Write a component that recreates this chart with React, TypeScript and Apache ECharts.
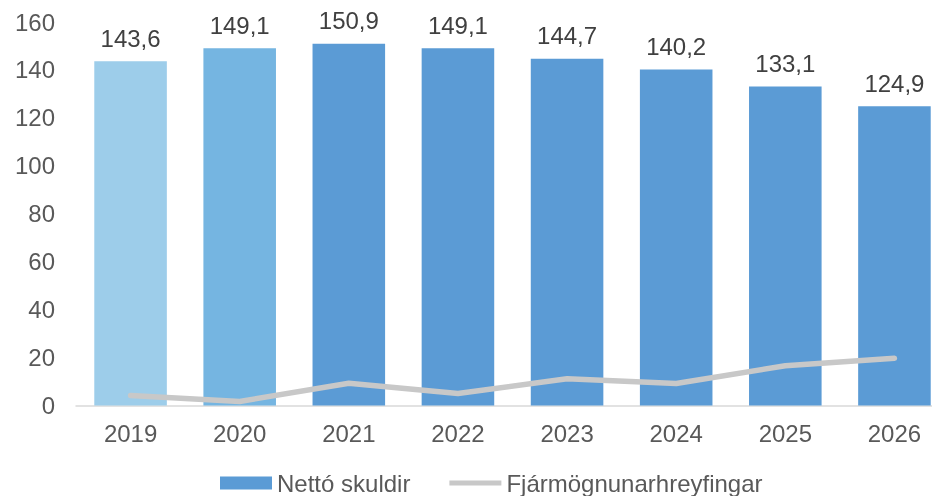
import React, { useEffect, useRef } from "react";
import * as echarts from "echarts";

const categories = ["2019", "2020", "2021", "2022", "2023", "2024", "2025", "2026"];
const nettoSkuldir = [143.6, 149.1, 150.9, 149.1, 144.7, 140.2, 133.1, 124.9];
const fjarmognun = [4.2, 1.7, 9.3, 5.0, 11.2, 9.2, 16.6, 19.7];
const barColors = ["#9DCDEA", "#75B5E1", "#5B9BD5", "#5B9BD5", "#5B9BD5", "#5B9BD5", "#5B9BD5", "#5B9BD5"];

const font = "Liberation Sans, Arial, sans-serif";

export default function App() {
  const ref = useRef<HTMLDivElement>(null);
  useEffect(() => {
    if (!ref.current) return;
    const chart = echarts.init(ref.current, null, { renderer: "svg" });
    chart.setOption({
      animation: false,
      textStyle: { fontFamily: font },
      grid: { left: 76, top: 22, width: 873, height: 383.5, containLabel: false },
      legend: {
        top: 471,
        left: 220,
        padding: 0,
        itemWidth: 52,
        itemHeight: 13,
        itemGap: 39,
        textStyle: { fontSize: 24, color: "#595959", fontFamily: font },
        data: [
          { name: "Nettó skuldir", icon: "rect", itemStyle: { color: "#5B9BD5" } },
          { name: "Fjármögnunarhreyfingar", icon: "path://M0,0 L52,0 L52,5 L0,5 Z", itemStyle: { color: "#C8C8C8" } },
        ],
      },
      xAxis: {
        type: "category",
        data: categories,
        axisLine: { lineStyle: { color: "#D9D9D9", width: 1.5 } },
        axisTick: { show: false },
        axisLabel: { fontSize: 24, color: "#595959", margin: 16, fontFamily: font },
      },
      yAxis: {
        type: "value",
        min: 0,
        max: 160,
        interval: 20,
        splitLine: { show: false },
        axisLine: { show: false },
        axisTick: { show: false },
        axisLabel: { fontSize: 24, color: "#595959", margin: 21, fontFamily: font },
      },
      series: [
        {
          name: "Nettó skuldir",
          type: "bar",
          data: nettoSkuldir.map((v, i) => ({ value: v, itemStyle: { color: barColors[i] } })),
          barWidth: "66.5%",
          itemStyle: { color: "#5B9BD5" },
          label: {
            show: true,
            position: "top",
            distance: 11,
            fontSize: 24,
            color: "#404040",
            fontFamily: font,
            formatter: (p: any) => p.value.toFixed(1).replace(".", ","),
          },
        },
        {
          name: "Fjármögnunarhreyfingar",
          type: "line",
          data: fjarmognun,
          symbol: "none",
          lineStyle: { color: "#C8C8C8", width: 5.5, cap: "round", join: "round" },
          itemStyle: { color: "#C8C8C8" },
        },
      ],
    });
    return () => chart.dispose();
  }, []);
  return (
    <div style={{ position: "fixed", left: 0, top: 0, width: 932, height: 496, overflow: "hidden" }}>
      <div ref={ref} style={{ width: 955, height: 496 }} />
    </div>
  );
}
